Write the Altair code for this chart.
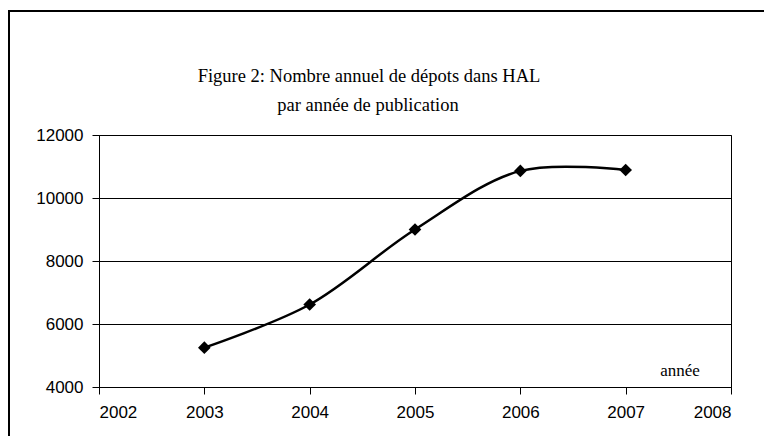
import altair as alt
import pandas as pd

years = [2003, 2004, 2005, 2006, 2007]
depots = [5250, 6620, 9000, 10860, 10890]
y_ticks = [4000, 6000, 8000, 10000, 12000]
x_ticks = [2002, 2003, 2004, 2005, 2006, 2007, 2008]
title_line1 = "Figure 2: Nombre annuel de dépots dans HAL"
title_line2 = "par année de publication"
x_label = "année"

df = pd.DataFrame({"annee": years, "depots": depots})

x_enc = alt.X("annee:Q", scale=alt.Scale(domain=[2002, 2008], nice=False, zero=False),
              axis=alt.Axis(values=x_ticks, format="d", title=None, grid=False,
                            domainColor="black", tickColor="black", tickSize=7,
                            labelFont="Liberation Sans", labelFontSize=17, labelColor="black",
                            labelPadding=10))
y_enc = alt.Y("depots:Q", scale=alt.Scale(domain=[4000, 12000], nice=False, zero=False),
              axis=alt.Axis(values=y_ticks, format="d", title=None, grid=True,
                            gridColor="black", gridOpacity=1, gridWidth=1,
                            domainColor="black", tickColor="black", tickSize=7,
                            labelFont="Liberation Sans", labelFontSize=17, labelColor="black",
                            labelPadding=9))

line = alt.Chart(df).mark_line(interpolate="catmull-rom", color="black", strokeWidth=2.5).encode(x=x_enc, y=y_enc)
pts = alt.Chart(df).mark_point(shape="diamond", filled=True, color="black", size=160, opacity=1).encode(x="annee:Q", y="depots:Q")


def text_layer(s, x, y, size):
    d = pd.DataFrame({"t": [s]})
    return alt.Chart(d).mark_text(font="Liberation Serif", fontSize=size, color="black",
                                  align="center", baseline="middle").encode(
        x=alt.value(x), y=alt.value(y), text="t:N")


t1 = text_layer(title_line1, 270, -59, 18.5)
t2 = text_layer(title_line2, 269, -30, 18.5)
lab = text_layer(x_label, 581, 236, 17)

fdf = pd.DataFrame({"k": [0]})
frame_left = alt.Chart(fdf).mark_rule(color="black", strokeWidth=2).encode(
    x=alt.value(-90), y=alt.value(-125), y2=alt.value(330))
frame_top = alt.Chart(fdf).mark_rule(color="black", strokeWidth=2).encode(
    x=alt.value(-91), x2=alt.value(665), y=alt.value(-124))

chart = alt.layer(line, pts, t1, t2, lab, frame_left, frame_top).properties(
    width=632, height=252,
    autosize=alt.AutoSizeParams(type="none"),
    padding={"left": 91, "top": 127, "right": 33, "bottom": 49},
    background="white",
).configure_view(stroke="black", strokeWidth=1)

chart.save("out.html", embed_options={"renderer": "svg", "actions": False})
